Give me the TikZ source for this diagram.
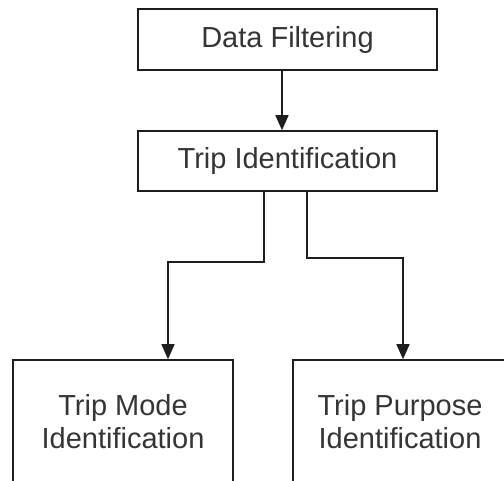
\documentclass[tikz,border=0pt]{standalone}
\usepackage{fontspec}
\setmainfont{Liberation Sans}
\usetikzlibrary{arrows.meta}
\definecolor{ink}{RGB}{30,30,30}
\tikzset{
  box/.style={draw=ink, line width=1.6pt, rectangle, inner sep=0pt, align=center,
    font=\fontsize{29}{33}\selectfont, text=ink!90},
  arr/.style={draw=ink, line width=1.6pt, -{Triangle[width=13pt,length=15pt]}}
}
\begin{document}
\begin{tikzpicture}[x=1pt,y=-1pt]
\useasboundingbox (0,0) rectangle (504,480);
\node[box, minimum width=299pt, minimum height=61pt] (df) at (287.5,39.5) {Data Filtering};
\node[box, minimum width=299pt, minimum height=60pt] (ti) at (287.5,161) {Trip Identification};
\node[box, minimum width=220pt, minimum height=123pt] (mode) at (123,421.5) {Trip Mode\\Identification};
\node[box, minimum width=214pt, minimum height=123pt] (purp) at (400,421.5) {Trip Purpose\\Identification};
\coordinate (c0) at (282,0);
\coordinate (cl1) at (264,262);
\coordinate (cl2) at (168,262);
\coordinate (cr1) at (307,258);
\coordinate (cr2) at (403,258);
\draw[arr] (df.south -| c0) -- (ti.north -| c0);
\draw[arr] (ti.south -| cl1) -- (cl1) -- (cl2) -- (mode.north -| cl2);
\draw[arr] (ti.south -| cr1) -- (cr1) -- (cr2) -- (purp.north -| cr2);
\end{tikzpicture}
\end{document}
